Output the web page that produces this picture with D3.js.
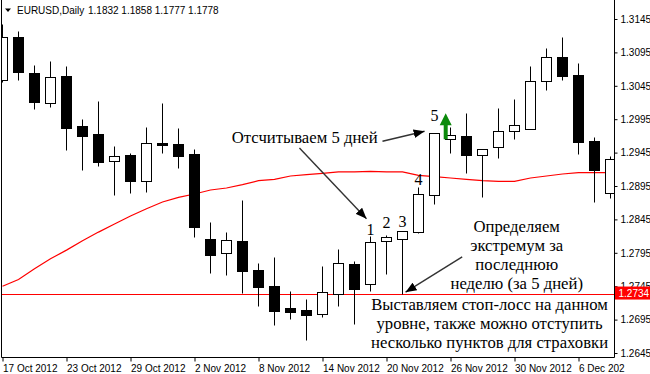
<!DOCTYPE html>
<html>
<head>
<meta charset="utf-8">
<title>EURUSD Daily</title>
<script src="https://cdn.jsdelivr.net/npm/d3@7"></script>
<style>
  body { margin: 0; background: #fff; }
  svg { display: block; }
  .axis text, .head { font-family: "Liberation Sans", Arial, sans-serif; font-size: 10px; fill: #000; }
  .note { font-family: "Liberation Serif", "Times New Roman", serif; font-size: 16.7px; fill: #000; }
  .count { font-size: 16px; }
</style>
</head>
<body>
<div id="chart"></div>
<script>
// daily bars, oldest first (bar 0 = 17 Oct 2012)
var open  = [1.3053,1.3118,1.3064,1.3019,1.3060,1.2985,1.2973,1.2933,1.2941,1.2902,1.2959,1.2958,1.2943,1.2815,1.2794,1.2812,1.2769,1.2746,1.2712,1.2709,1.2703,1.2734,1.2778,1.2748,1.2812,1.2816,1.2826,1.2882,1.2965,1.2970,1.2941,1.2953,1.2978,1.2981,1.3052,1.3088,1.3061,1.2962,1.2884];
var high  = [1.3137,1.3127,1.3076,1.3082,1.3075,1.2995,1.3022,1.2955,1.2944,1.2983,1.3019,1.2982,1.2950,1.2841,1.2826,1.2874,1.2780,1.2789,1.2738,1.2726,1.2775,1.2801,1.2783,1.2820,1.2822,1.2827,1.2893,1.2974,1.2984,1.3005,1.2951,1.3012,1.3025,1.3075,1.3102,1.3118,1.3079,1.2968,1.2940];
var low   = [1.3051,1.3054,1.3010,1.3014,1.2949,1.2919,1.2925,1.2882,1.2884,1.2886,1.2945,1.2922,1.2819,1.2765,1.2762,1.2735,1.2715,1.2687,1.2696,1.2665,1.2699,1.2716,1.2688,1.2738,1.2763,1.2734,1.2824,1.2868,1.2944,1.2914,1.2879,1.2937,1.2966,1.2981,1.3039,1.3053,1.2943,1.2871,1.2877];
var close = [1.3118,1.3065,1.3020,1.3058,1.2982,1.2970,1.2931,1.2940,1.2903,1.2959,1.2957,1.2940,1.2834,1.2792,1.2814,1.2768,1.2744,1.2708,1.2707,1.2702,1.2736,1.2780,1.2741,1.2811,1.2818,1.2827,1.2883,1.2974,1.2971,1.2941,1.2951,1.2977,1.2986,1.3052,1.3088,1.3060,1.2961,1.2919,1.2935];
// moving average (red line)
var ma    = [1.2745,1.2755,1.2771,1.2786,1.2799,1.2813,1.2826,1.2838,1.2850,1.2861,1.2871,1.2878,1.2883,1.2889,1.2892,1.2897,1.2903,1.2905,1.2910,1.2912,1.2914,1.2916,1.2916,1.2917,1.2916,1.2916,1.2911,1.2909,1.2907,1.2905,1.2903,1.2902,1.2902,1.2907,1.2910,1.2913,1.2915,1.2915,1.2915];

var priceTicks = [1.3145,1.3095,1.3045,1.2995,1.2945,1.2895,1.2845,1.2795,1.2745,1.2695,1.2645];
var dateBars   = [0,4,8,12,16,20,24,28,32,36];
var dateLabels = ["17 Oct 2012","23 Oct 2012","29 Oct 2012","2 Nov 2012","8 Nov 2012","14 Nov 2012","20 Nov 2012","26 Nov 2012","30 Nov 2012","6 Dec 202"];

var stopLevel = 1.2734;
var header = ["EURUSD,Daily", "1.1832 1.1858 1.1777 1.1778"];

// annotations (bar index / price)
var countBars   = [23,24,25,26,27];
var countPrices = [1.2822,1.2832,1.2834,1.2897,1.2993];
var notes = [
  {bar: 14.33, price: 1.2959, anchor: "start",  lines: ["Отсчитываем 5 дней"]},
  {bar: 32.14, price: 1.2826, anchor: "middle", lines: ["Определяем", "экстремум за", "последнюю", "неделю (за 5 дней)"]},
  {bar: 30.44, price: 1.2710, anchor: "middle", lines: ["Выставляем стоп-лосс на данном", "уровне, также можно отступить", "несколько пунктов для страховки"]}
];
var arrows = [
  {b0: 23.75, p0: 1.2962, b1: 26.38, p1: 1.2977},
  {b0: 18.56, p0: 1.2952, b1: 22.75, p1: 1.2846},
  {b0: 28.73, p0: 1.2789, b1: 25.19, p1: 1.2736}
];
var upArrow = {bar: 27.7, tip: 1.3004, neck: 1.2986, base: 1.2965};

var width = 650, height = 374;
var plotL = 1.5, plotR = 614.5, plotB = 357.5;

var x = d3.scaleLinear().domain([0, 1]).range([2.5, 18.5]);
var y = d3.scaleLinear().domain([1.2645, 1.3145]).range([353, 19]);
function py(v) { return Math.round(y(v)) + 0.5; }

var svg = d3.select("#chart").append("svg")
    .attr("width", width).attr("height", height);
svg.append("rect").attr("width", width).attr("height", height).attr("fill", "#fff");

svg.append("defs").append("clipPath").attr("id", "plot")
  .append("rect").attr("x", plotL).attr("y", 0).attr("width", plotR - plotL).attr("height", plotB);
svg.select("defs").append("marker")
    .attr("id", "head").attr("markerUnits", "userSpaceOnUse")
    .attr("viewBox", "0 0 10 8").attr("refX", 10).attr("refY", 4)
    .attr("markerWidth", 11).attr("markerHeight", 9).attr("orient", "auto")
  .append("path").attr("d", "M0,0L10,4L0,8Z").attr("fill", "#000");

var g = svg.append("g").attr("clip-path", "url(#plot)");

// stop level and moving average
g.append("line")
    .attr("x1", 0).attr("x2", plotR)
    .attr("y1", py(stopLevel)).attr("y2", py(stopLevel))
    .attr("stroke", "#ff0000");
g.append("path")
    .datum(ma)
    .attr("fill", "none").attr("stroke", "#ff0000").attr("stroke-width", 1.2)
    .attr("d", d3.line().x(function(d, i) { return x(i); }).y(function(d) { return y(d); }));

// candles
var bars = d3.range(open.length).map(function(i) {
  return {i: i, o: open[i], h: high[i], l: low[i], c: close[i]};
});
var candle = g.selectAll("g.candle").data(bars).enter().append("g").attr("class", "candle");
candle.append("line")
    .attr("x1", function(d) { return x(d.i); }).attr("x2", function(d) { return x(d.i); })
    .attr("y1", function(d) { return py(d.h); }).attr("y2", function(d) { return py(d.l); })
    .attr("stroke", "#000");
candle.append("rect")
    .attr("x", function(d) { return x(d.i) - 5; })
    .attr("y", function(d) { return py(Math.max(d.o, d.c)); })
    .attr("width", 10)
    .attr("height", function(d) { return Math.max(1, py(Math.min(d.o, d.c)) - py(Math.max(d.o, d.c))); })
    .attr("fill", function(d) { return d.c >= d.o ? "#fff" : "#000"; })
    .attr("stroke", "#000");

// green up arrow
var ax = x(upArrow.bar);
g.append("path")
    .attr("d", "M" + (ax - 6) + "," + y(upArrow.neck) + "L" + ax + "," + y(upArrow.tip) + "L" + (ax + 6) + "," + y(upArrow.neck) +
               "L" + (ax + 2) + "," + y(upArrow.neck) + "L" + (ax + 2) + "," + y(upArrow.base) +
               "L" + (ax - 2) + "," + y(upArrow.base) + "L" + (ax - 2) + "," + y(upArrow.neck) + "Z")
    .attr("fill", "#0b8a0b");

// arrows and texts
g.selectAll("line.arrow").data(arrows).enter().append("line").attr("class", "arrow")
    .attr("x1", function(d) { return x(d.b0); }).attr("y1", function(d) { return y(d.p0); })
    .attr("x2", function(d) { return x(d.b1); }).attr("y2", function(d) { return y(d.p1); })
    .attr("stroke", "#333").attr("stroke-width", 1.4)
    .attr("marker-end", "url(#head)");

g.selectAll("text.count").data(countBars).enter().append("text")
    .attr("class", "note count")
    .attr("x", function(d) { return x(d); })
    .attr("y", function(d, k) { return y(countPrices[k]); })
    .attr("text-anchor", "middle")
    .text(function(d, k) { return k + 1; });

var note = g.selectAll("text.block").data(notes).enter().append("text")
    .attr("class", "note block")
    .attr("text-anchor", function(d) { return d.anchor; });
note.selectAll("tspan").data(function(d) { return d.lines.map(function(t) { return {t: t, d: d}; }); })
  .enter().append("tspan")
    .attr("x", function(s) { return x(s.d.bar); })
    .attr("y", function(s, k) { return y(s.d.price) + k * 19; })
    .text(function(s) { return s.t; });

// frame
svg.append("path")
    .attr("d", "M" + plotL + ",0V" + plotB + "H" + plotR + "V0")
    .attr("fill", "none").attr("stroke", "#000");

// axes
var yAxis = svg.append("g").attr("class", "axis")
    .attr("transform", "translate(" + plotR + ",0)")
    .call(d3.axisRight(y).tickValues(priceTicks).tickFormat(d3.format(".4f")).tickSize(3).tickPadding(3));
yAxis.select(".domain").remove();

var xAxis = svg.append("g").attr("class", "axis")
    .attr("transform", "translate(0," + plotB + ")")
    .call(d3.axisBottom(x).tickValues(dateBars).tickFormat(function(d, k) { return dateLabels[k]; }).tickSize(4).tickPadding(3));
xAxis.select(".domain").remove();
xAxis.selectAll("text").attr("text-anchor", "start");

// current level tag
svg.append("rect")
    .attr("x", plotR + 0.5).attr("y", y(stopLevel) - 7)
    .attr("width", width - plotR).attr("height", 13)
    .attr("fill", "#ff0000");
svg.append("text").attr("class", "head")
    .attr("x", plotR + 4).attr("y", y(stopLevel) + 3.5)
    .attr("fill", "#fff").style("fill", "#fff")
    .text(d3.format(".4f")(stopLevel));

// header
svg.append("path").attr("d", "M5,8.5L11,8.5L8,12Z").attr("fill", "#000");
svg.append("text").attr("class", "head").attr("x", 17).attr("y", 14).text(header[0]);
svg.append("text").attr("class", "head").attr("x", 88).attr("y", 14).text(header[1]);
</script>
</body>
</html>
